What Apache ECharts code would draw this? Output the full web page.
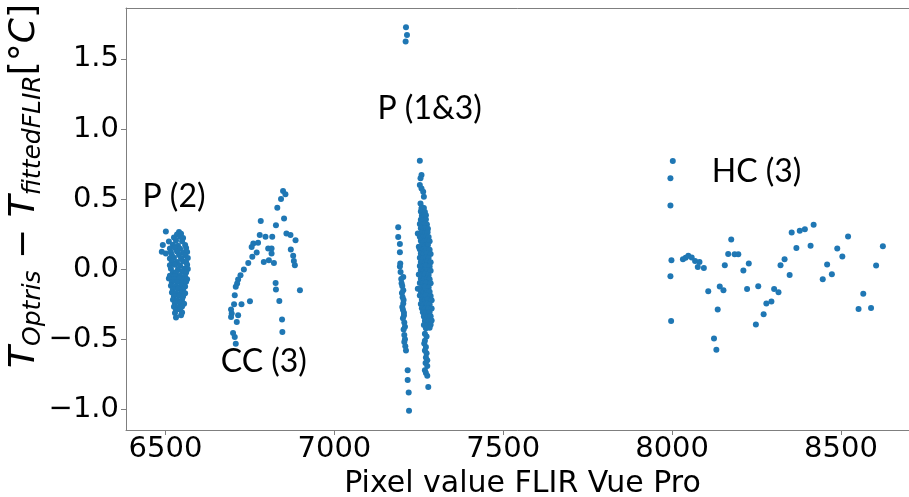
<!DOCTYPE html>
<html>
<head>
<meta charset="utf-8">
<script src="https://cdn.jsdelivr.net/npm/echarts@6/dist/echarts.min.js"></script>
<style>
  html, body { margin: 0; padding: 0; background: #ffffff; }
  #chart { width: 909px; height: 497px; }
</style>
</head>
<body>
<div id="chart"></div>
<script>
// Tick positions
const xTicks = [6500, 7000, 7500, 8000, 8500];
const yTicks = [-1.0, -0.5, 0.0, 0.5, 1.0, 1.5];

// Residuals per measurement group: [pixel value, T_Optris - T_fittedFLIR]
const p2Points = [
  [6501,0.268],[6540,0.265],
  [6534,0.248],[6546,0.252],
  [6525,0.226],[6543,0.231],[6552,0.222],
  [6510,0.197],[6531,0.204],[6549,0.199],
  [6492,0.172],[6522,0.175],[6537,0.168],[6558,0.173],
  [6513,0.148],[6528,0.152],[6543,0.146],[6561,0.151],
  [6489,0.124],[6516,0.121],[6534,0.126],[6552,0.119],[6564,0.123],
  [6501,0.112],[6519,0.098],[6540,0.101],[6558,0.097],
  [6513,0.077],[6525,0.081],[6546,0.076],[6566,0.079],
  [6519,0.054],[6534,0.051],[6552,0.056],[6561,0.049],
  [6513,0.028],[6528,0.031],[6543,0.027],[6564,0.032],
  [6516,0.003],[6537,-0.001],[6555,0.004],[6566,0.002],
  [6522,-0.021],[6531,-0.024],[6549,-0.019],[6561,-0.023],
  [6513,-0.047],[6528,-0.051],[6543,-0.046],[6558,-0.052],
  [6510,-0.066],[6525,-0.072],[6540,-0.069],[6555,-0.074],[6564,-0.071],
  [6519,-0.094],[6534,-0.091],[6549,-0.096],[6561,-0.089],
  [6516,-0.118],[6531,-0.121],[6546,-0.117],[6558,-0.123],
  [6522,-0.143],[6537,-0.139],[6552,-0.144],
  [6519,-0.166],[6531,-0.171],[6546,-0.168],[6558,-0.172],
  [6525,-0.193],[6540,-0.189],[6552,-0.194],
  [6522,-0.218],[6534,-0.221],[6549,-0.216],
  [6528,-0.243],[6543,-0.239],[6555,-0.246],
  [6525,-0.268],[6537,-0.272],[6549,-0.266],
  [6531,-0.291],[6543,-0.288],
  [6528,-0.312],[6549,-0.309],
  [6546,-0.329],
  [6531,-0.345]
];

const cc3Points = [
  [6848,0.557],[6855,0.534],[6842,0.500],[6831,0.438],[6851,0.362],[6782,0.343],
  [6827,0.314],[6858,0.255],[6870,0.243],[6779,0.243],[6796,0.231],[6816,0.231],
  [6885,0.207],[6760,0.184],[6774,0.188],[6755,0.159],[6804,0.148],[6814,0.148],
  [6871,0.141],[6770,0.119],[6814,0.112],[6878,0.095],[6757,0.088],[6791,0.052],
  [6806,0.064],[6821,0.045],[6880,0.059],[6745,0.045],[6883,0.029],[6732,-0.002],
  [6722,-0.043],[6715,-0.074],[6712,-0.102],[6826,-0.098],[6708,-0.126],[6827,-0.145],
  [6898,-0.150],[6705,-0.186],[6750,-0.229],[6837,-0.226],[6703,-0.250],[6725,-0.250],
  [6694,-0.288],[6696,-0.316],[6715,-0.329],[6694,-0.341],[6711,-0.376],[6845,-0.359],
  [6846,-0.448],[6700,-0.455],[6705,-0.484],[6708,-0.531]
];

const p13Points = [
  // high outliers
  [7212,1.726],[7215,1.671],[7211,1.624],
  // left column
  [7189,0.300],[7189,0.230],[7194,0.180],[7194,0.120],[7195,0.040],[7194,0.020],
  [7196,-0.020],[7204,-0.055],[7198,-0.070],[7199,-0.100],[7201,-0.120],[7204,-0.150],
  [7200,-0.170],[7202,-0.200],[7205,-0.220],[7204,-0.245],[7201,-0.270],[7203,-0.290],
  [7206,-0.310],[7206,-0.330],[7203,-0.350],[7207,-0.380],[7209,-0.410],[7205,-0.430],
  [7207,-0.470],[7209,-0.500],[7207,-0.520],[7210,-0.550],[7212,-0.580],[7217,-0.720],
  [7217,-0.790],[7220,-0.880],[7221,-1.010],
  // right column, upper tail
  [7253,0.774],[7258,0.671],[7255,0.648],[7253,0.600],[7258,0.576],[7263,0.552],
  [7265,0.516],[7255,0.469],[7258,0.433],[7261,0.398],
  // right column, dense core
  [7259,0.442],[7265,0.437],
  [7256,0.412],[7268,0.408],
  [7259,0.381],[7265,0.378],[7271,0.384],
  [7256,0.352],[7262,0.348],[7271,0.355],
  [7253,0.322],[7262,0.318],[7268,0.324],[7274,0.319],
  [7256,0.292],[7265,0.288],[7271,0.294],[7277,0.289],
  [7247,0.255],[7259,0.262],[7268,0.258],[7276,0.263],
  [7253,0.232],[7262,0.228],[7271,0.234],[7279,0.229],
  [7256,0.202],[7265,0.198],[7274,0.204],[7282,0.199],
  [7250,0.160],[7259,0.172],[7268,0.168],[7277,0.173],
  [7253,0.142],[7262,0.138],[7271,0.144],[7282,0.139],
  [7256,0.112],[7265,0.108],[7274,0.114],[7285,0.109],
  [7253,0.082],[7262,0.078],[7271,0.084],[7279,0.079],
  [7256,0.052],[7268,0.048],[7276,0.054],[7285,0.049],
  [7253,0.022],[7262,0.018],[7271,0.024],[7282,0.019],
  [7256,-0.008],[7265,-0.012],[7274,-0.006],[7285,-0.011],
  [7250,-0.038],[7259,-0.042],[7268,-0.036],[7279,-0.041],
  [7256,-0.068],[7265,-0.072],[7274,-0.066],[7282,-0.071],
  [7253,-0.098],[7262,-0.102],[7271,-0.096],[7285,-0.101],
  [7247,-0.140],[7259,-0.132],[7268,-0.126],[7279,-0.131],
  [7256,-0.158],[7265,-0.162],[7274,-0.156],[7282,-0.161],
  [7253,-0.188],[7262,-0.192],[7271,-0.186],[7285,-0.191],
  [7259,-0.218],[7268,-0.222],[7276,-0.216],[7288,-0.221],
  [7256,-0.248],[7265,-0.252],[7274,-0.246],[7282,-0.251],
  [7259,-0.278],[7268,-0.282],[7279,-0.276],[7288,-0.281],
  [7262,-0.308],[7271,-0.312],[7282,-0.306],
  [7265,-0.338],[7276,-0.342],[7285,-0.336],
  [7268,-0.368],[7279,-0.372],[7288,-0.366],
  [7265,-0.398],[7276,-0.402],[7285,-0.396],
  [7271,-0.422],[7282,-0.418],
  // right column, lower tail
  [7268,-0.460],[7273,-0.480],[7268,-0.510],[7266,-0.530],[7271,-0.555],[7268,-0.580],
  [7273,-0.600],[7271,-0.630],[7275,-0.650],[7270,-0.670],[7275,-0.690],[7268,-0.720],
  [7271,-0.740],[7275,-0.760],[7278,-0.840]
];

const hc3Points = [
  [8002,0.771],[7995,0.648],[7995,0.455],[7998,0.064],[7995,-0.050],[7997,-0.369],
  [8032,0.071],[8040,0.081],[8048,0.095],[8058,0.084],[8068,0.059],[8081,0.052],
  [8076,0.016],[8094,0.009],[8107,-0.157],[8124,-0.495],[8131,-0.574],[8135,-0.288],
  [8141,-0.124],[8152,-0.150],[8156,0.029],[8166,0.109],[8175,0.212],[8185,0.107],
  [8196,0.107],[8211,-0.009],[8222,-0.141],[8227,0.041],[8248,-0.395],[8255,-0.121],
  [8271,-0.321],[8279,-0.245],[8294,-0.231],[8302,-0.141],[8315,-0.164],[8321,0.029],
  [8333,0.071],[8348,-0.041],[8354,0.262],[8368,0.152],[8378,0.274],[8393,0.284],
  [8410,0.167],[8419,0.317],[8446,-0.071],[8459,0.034],[8473,-0.036],[8489,0.148],
  [8504,0.091],[8521,0.234],[8552,-0.284],[8566,-0.176],[8589,-0.276],[8604,0.026],
  [8624,0.164]
];

// Group annotations, centred at data coordinates
const groupNames = ['P (2)', 'CC (3)', 'P (1&3)', 'HC (3)'];
const groupNameX = [6525, 6791, 7282, 8250];
const groupNameY = [0.52, -0.657, 1.143, 0.693];

const POINT_COLOR = '#1f77b4';
const SPINE = '#7f7f7f';
const TICK_FONT = 'DejaVu Sans';
const X_MIN = 6383, X_MAX = 8731;

const chart = echarts.init(document.getElementById('chart'), null, { renderer: 'canvas' });

function fmtY(v) {
  const s = Math.abs(v).toFixed(1);
  return v < 0 ? '\u2212' + s : s;
}

function scatter(points) {
  return {
    type: 'scatter',
    xAxisIndex: 0,
    data: points,
    symbol: 'circle',
    symbolSize: 6,
    itemStyle: { color: POINT_COLOR, opacity: 1 },
    emphasis: { disabled: true },
    silent: true
  };
}

chart.setOption({
  animation: false,
  grid: {
    left: 126, right: -10, top: 8, bottom: 67,
    containLabel: false, outerBoundsMode: 'none', show: false
  },
  xAxis: [{
    type: 'value', min: X_MIN, max: X_MAX, position: 'bottom',
    splitLine: { show: false },
    axisLine: { show: true, onZero: false, lineStyle: { color: SPINE, width: 1 } },
    axisTick: { show: true, customValues: xTicks, length: 5, lineStyle: { color: SPINE } },
    axisLabel: {
      customValues: xTicks, fontFamily: TICK_FONT, fontSize: 29, color: '#000', margin: 5,
      formatter: v => String(v)
    },
    name: 'Pixel value FLIR Vue Pro',
    nameLocation: 'middle', nameGap: 34,
    nameTextStyle: { fontFamily: TICK_FONT, fontSize: 30, color: '#000', verticalAlign: 'top' }
  }, {
    // top spine only
    type: 'value', min: X_MIN, max: X_MAX, position: 'top',
    splitLine: { show: false },
    axisLine: { show: true, onZero: false, lineStyle: { color: SPINE, width: 1 } },
    axisTick: { show: false }, axisLabel: { show: false }
  }],
  yAxis: {
    type: 'value', min: -1.147, max: 1.863,
    splitLine: { show: false },
    axisLine: { show: true, onZero: false, lineStyle: { color: SPINE, width: 1 } },
    axisTick: { show: true, customValues: yTicks, length: 5, lineStyle: { color: SPINE } },
    axisLabel: {
      customValues: yTicks, fontFamily: TICK_FONT, fontSize: 29, color: '#000', margin: 7,
      formatter: fmtY
    }
  },
  series: [scatter(p2Points), scatter(cc3Points), scatter(p13Points), scatter(hc3Points)]
});

// Annotations and the y-axis title
const graphics = groupNames.map((name, i) => {
  const [px, py] = chart.convertToPixel({ xAxisIndex: 0, yAxisIndex: 0 }, [groupNameX[i], groupNameY[i]]);
  return {
    type: 'text', x: px, y: py, silent: true,
    style: {
      text: name, fill: '#000', font: '32px Lato',
      textAlign: 'center', textVerticalAlign: 'middle'
    }
  };
});

graphics.push({
  type: 'text', x: 25, y: 186, rotation: Math.PI / 2, silent: true,
  style: {
    text: '{t|T}{s|Optris}{r| \u2212 }{t|T}{s|fittedFLIR}{r|[\u00b0}{t|C}{r|]}',
    textAlign: 'center', textVerticalAlign: 'middle', fill: '#000',
    rich: {
      t: { fontFamily: TICK_FONT, fontStyle: 'italic', fontSize: 36, lineHeight: 42, verticalAlign: 'middle', fill: '#000' },
      s: { fontFamily: TICK_FONT, fontStyle: 'italic', fontSize: 25, lineHeight: 42, verticalAlign: 'bottom', fill: '#000' },
      r: { fontFamily: TICK_FONT, fontSize: 36, lineHeight: 42, verticalAlign: 'middle', fill: '#000' }
    }
  }
});

chart.setOption({ graphic: graphics });
</script>
</body>
</html>
